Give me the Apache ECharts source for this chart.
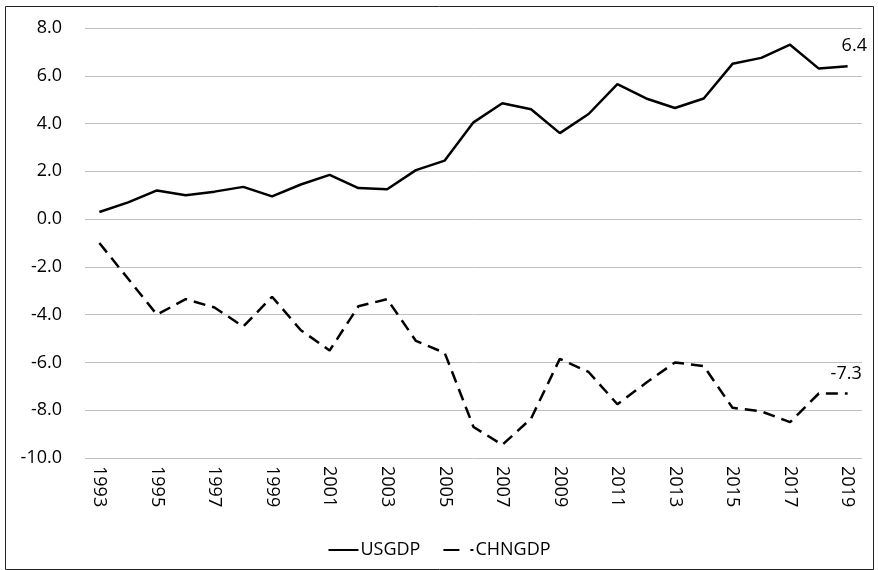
<!DOCTYPE html>
<html>
<head>
<meta charset="utf-8">
<script src="https://cdn.jsdelivr.net/npm/echarts@6/dist/echarts.min.js"></script>
<style>
  html, body { margin: 0; padding: 0; background: #fff; }
  #chart { width: 878px; height: 570px; }
</style>
</head>
<body>
<div id="chart"></div>
<script>
const years = [];
for (let y = 1993; y <= 2019; y++) years.push(String(y));

const usGdp = [0.3, 0.7, 1.2, 1.0, 1.15, 1.35, 0.95, 1.45, 1.85, 1.3, 1.25, 2.05, 2.45,
  4.05, 4.85, 4.6, 3.6, 4.4, 5.65, 5.05, 4.65, 5.05, 6.5, 6.75, 7.3, 6.3, 6.4];
const chnGdp = [-1.0, -2.5, -4.0, -3.35, -3.7, -4.5, -3.25, -4.65, -5.5, -3.65, -3.35, -5.1, -5.6,
  -8.7, -9.45, -8.35, -5.85, -6.4, -7.75, -6.85, -6.0, -6.15, -7.9, -8.05, -8.5, -7.3, -7.3];

const fontFamily = '"Open Sans", "Noto Sans", sans-serif';

const chart = echarts.init(document.getElementById('chart'));
chart.setOption({
  animation: false,
  graphic: [{
    type: 'rect',
    shape: { x: 5.5, y: 6.5, width: 868, height: 563 },
    style: { fill: 'none', stroke: '#222', lineWidth: 1 }
  }],
  grid: { left: 85, right: 16, top: 28, bottom: 112 },
  legend: {
    top: 536,
    left: 'center',
    orient: 'horizontal',
    itemWidth: 30,
    itemHeight: 14,
    itemGap: 22,
    itemStyle: { opacity: 0 },
    textStyle: { color: '#000', fontSize: 18, fontFamily, padding: [0, 0, 0, -3] },
    data: [
      { name: 'USGDP' },
      { name: 'CHNGDP', lineStyle: { type: [16, 11] } }
    ]
  },
  xAxis: {
    type: 'category',
    data: years,
    boundaryGap: true,
    axisLine: { show: false },
    axisTick: { show: false },
    axisLabel: { rotate: -90, interval: 1, margin: 8, color: '#000', fontSize: 18, fontFamily }
  },
  yAxis: {
    type: 'value',
    min: -10,
    max: 8,
    interval: 2,
    axisLine: { show: false },
    axisTick: { show: false },
    axisLabel: { margin: 23, color: '#000', fontSize: 18, fontFamily,
      formatter: v => v.toFixed(1) },
    splitLine: { lineStyle: { color: '#c0c0c0', width: 1 } }
  },
  series: [
    {
      name: 'USGDP',
      type: 'line',
      data: usGdp,
      symbol: 'none',
      lineStyle: { color: '#000', width: 2.5 },
      itemStyle: { color: '#000' },
      endLabel: {
        show: true, distance: 0, offset: [-6, -20],
        formatter: p => p.value.toFixed(1),
        color: '#000', fontSize: 18, fontFamily
      }
    },
    {
      name: 'CHNGDP',
      type: 'line',
      data: chnGdp,
      symbol: 'none',
      lineStyle: { color: '#000', width: 2.5, type: [12, 7] },
      itemStyle: { color: '#000' },
      endLabel: {
        show: true, distance: 0, offset: [-17, -20],
        formatter: p => p.value.toFixed(1),
        color: '#000', fontSize: 18, fontFamily
      }
    }
  ]
});
</script>
</body>
</html>
